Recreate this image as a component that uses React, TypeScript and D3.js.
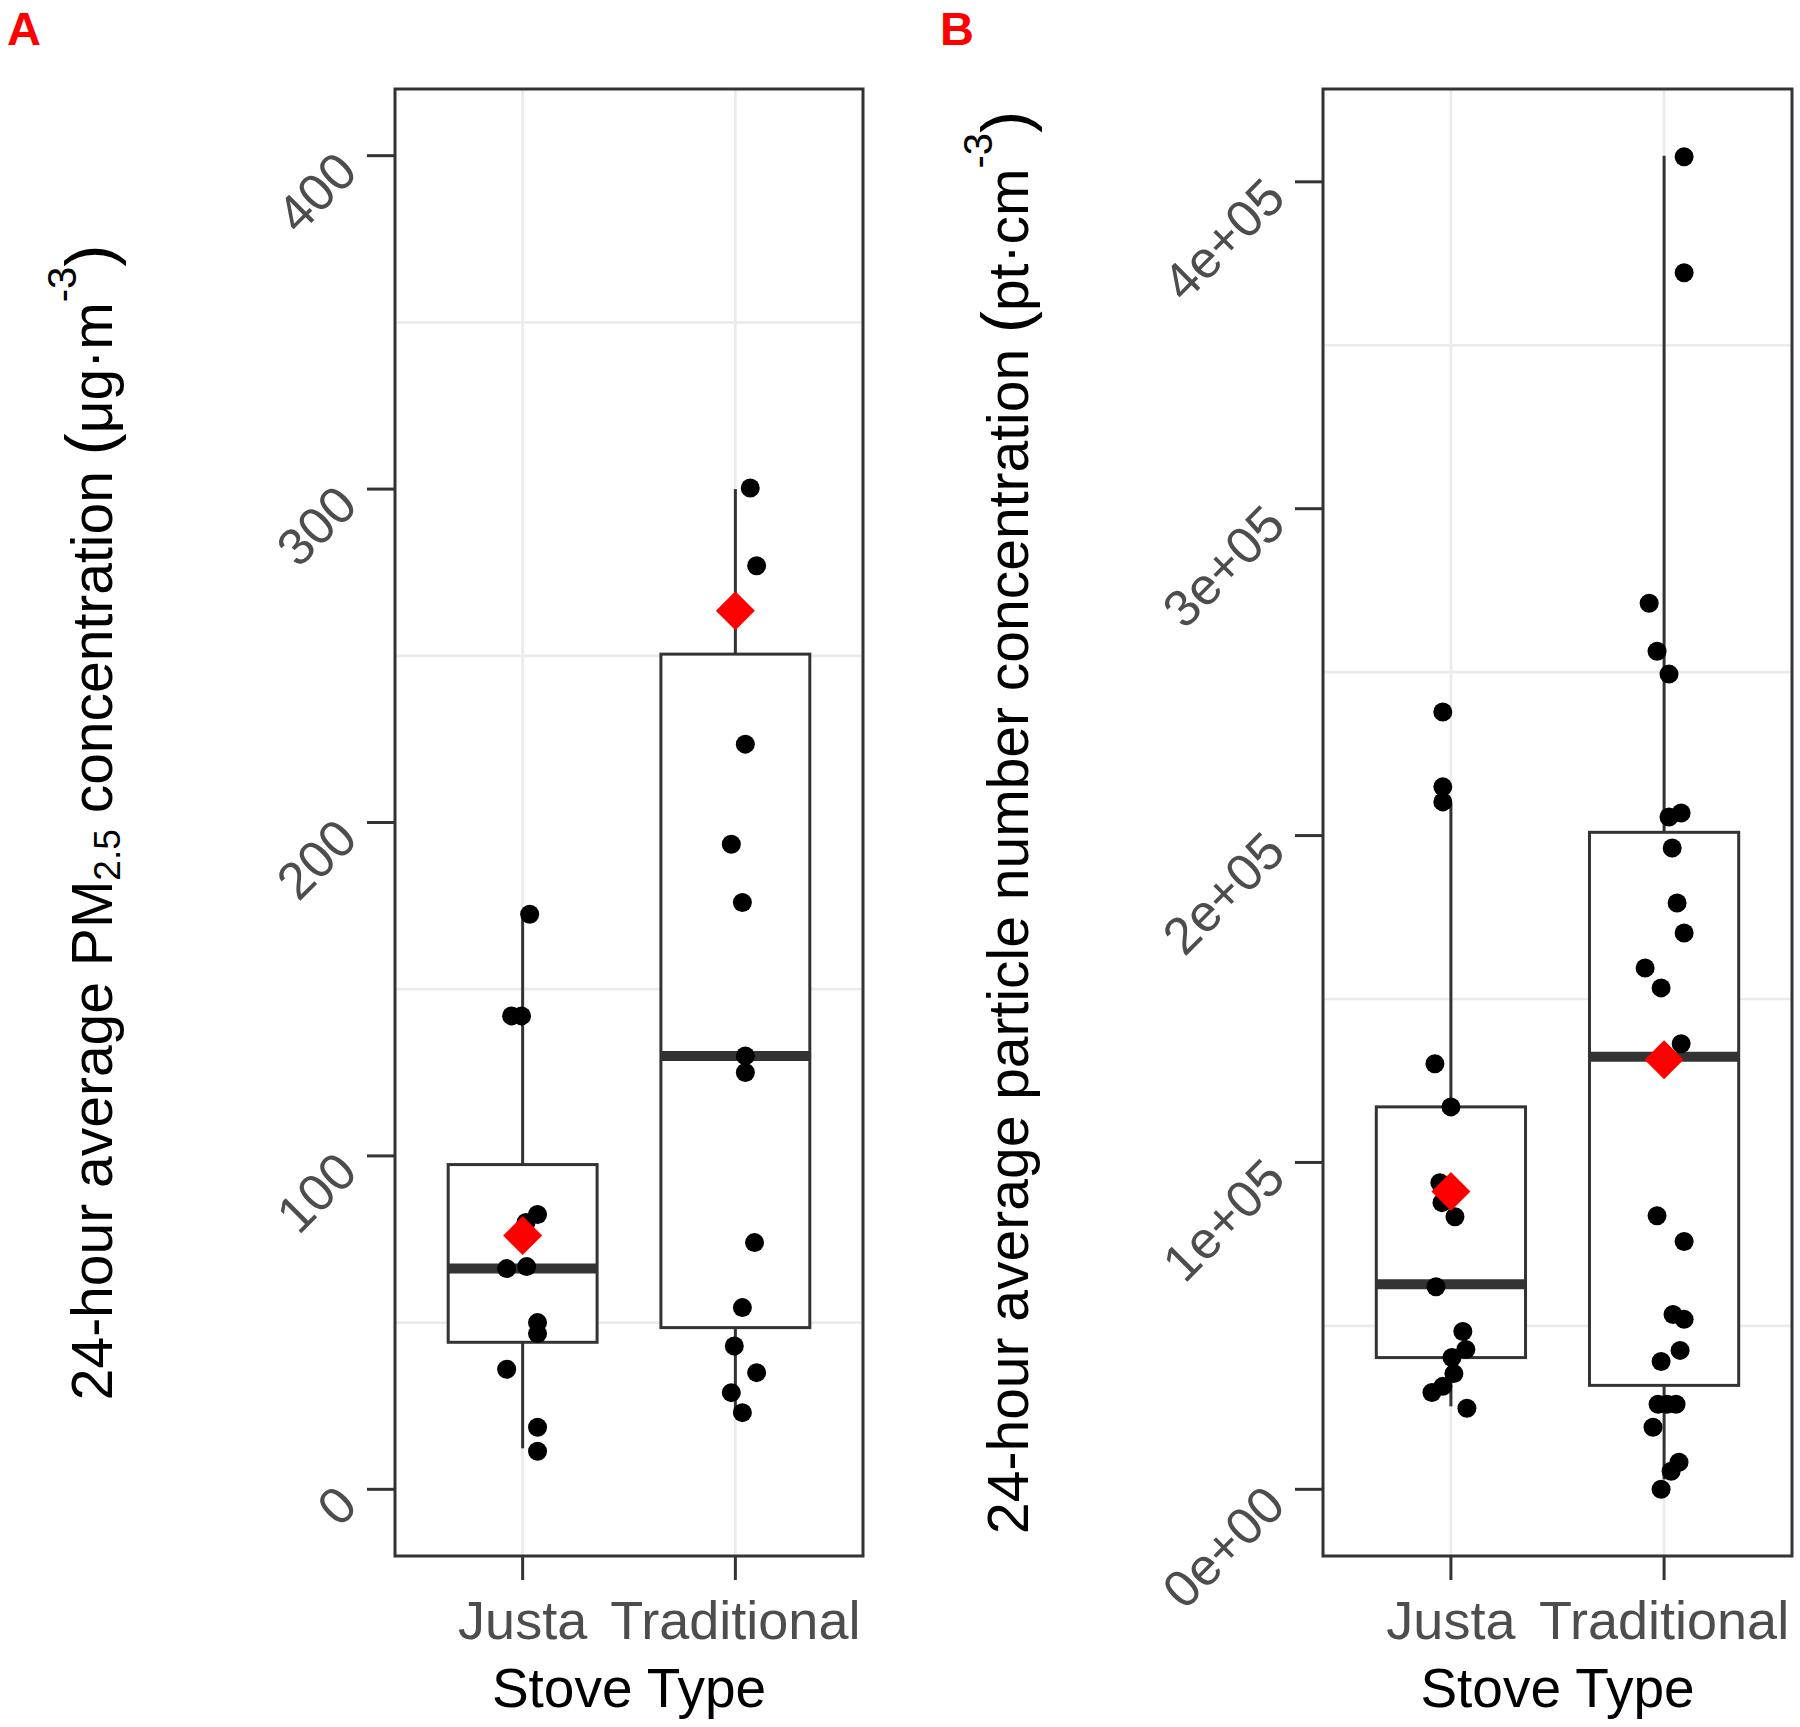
import React from "react";
import * as d3 from "d3";

// ---------- data ----------
const CATEGORIES = ["Justa", "Traditional"];

// Panel A: PM2.5 (µg/m3)
const PM_LIMITS = [0, 400];
const PM_TICKS = [0, 100, 200, 300, 400];
const PM_TICK_LABELS = ["0", "100", "200", "300", "400"];
const PM_MINOR = [50, 150, 250, 350];
// box stats: [lower whisker, Q1, median, Q3, upper whisker]
const PM_BOX_JUSTA = [12.3, 44.1, 66.2, 97.4, 172.6];
const PM_BOX_TRAD = [23, 48.5, 130, 250.5, 300];
const PM_MEANS = [76.1, 263.5];
const PM_JUSTA = [172.5, 142, 142, 82.4, 80, 66.2, 66.8, 50, 46.7, 36, 18.6, 11.4];
const PM_JUSTA_JITTER = [0.033, -0.052, -0.005, 0.07, 0.016, -0.075, 0.019, 0.07, 0.07, -0.075, 0.07, 0.07];
const PM_TRAD = [300.3, 277, 223.5, 193.5, 176, 130, 125, 74, 54.5, 43, 35, 29, 23];
const PM_TRAD_JITTER = [0.07, 0.1, 0.047, -0.019, 0.033, 0.047, 0.047, 0.09, 0.033, -0.005, 0.1, -0.019, 0.033];

// Panel B: particle number (pt/cm3)
const PN_LIMITS = [0, 408000];
const PN_TICKS = [0, 100000, 200000, 300000, 400000];
const PN_TICK_LABELS = ["0e+00", "1e+05", "2e+05", "3e+05", "4e+05"];
const PN_MINOR = [50000, 150000, 250000, 350000];
const PN_BOX_JUSTA = [25400, 40300, 62700, 117000, 210000];
const PN_BOX_TRAD = [3000, 31800, 132300, 201000, 408000];
const PN_MEANS = [91100, 131400];
const PN_JUSTA = [237800, 214900, 210300, 130200, 117000, 93800, 87700, 83400, 62000, 48300, 42800, 40300, 35400, 31500, 29600, 24800];
const PN_JUSTA_JITTER = [-0.038, -0.038, -0.038, -0.075, 0, -0.052, -0.042, 0.019, -0.07, 0.056, 0.07, 0.005, 0.014, -0.038, -0.089, 0.075];
const PN_TRAD = [407700, 372200, 271100, 256400, 249400, 206900, 205700, 196200, 179400, 170200, 159500, 153400, 136300, 83700, 75800, 53500, 52000, 42500, 39100, 26000, 26000, 26000, 19000, 8300, 5500, 0];
const PN_TRAD_JITTER = [0.094, 0.094, -0.07, -0.033, 0.023, 0.08, 0.023, 0.038, 0.061, 0.094, -0.089, -0.014, 0.08, -0.033, 0.094, 0.042, 0.094, 0.075, -0.014, -0.028, 0.014, 0.056, -0.052, 0.07, 0.033, -0.014];

// ---------- layout ----------
const W = 1800;
const H = 1727;
const TOP = 89;
const BOTTOM = 1556;
const FONT = "'Liberation Sans', Arial, Helvetica, sans-serif";
const BORDER = "#333333";
const GRID = "#EBEBEB";
const TICK_TEXT = "#4D4D4D";

type PanelProps = {
  left: number;
  right: number;
  limits: number[];
  ticks: number[];
  tickLabels: string[];
  minor: number[];
  boxes: number[][];
  means: number[];
  points: number[][];
  jitter: number[][];
  titleX: number;
  title: React.ReactNode;
  letter: string;
  letterX: number;
};

function Panel(p: PanelProps) {
  const span = p.limits[1] - p.limits[0];
  const y = d3
    .scaleLinear()
    .domain([p.limits[0] - 0.05 * span, p.limits[1] + 0.05 * span])
    .range([BOTTOM, TOP]);
  const x = d3.scalePoint<string>().domain(CATEGORIES).range([p.left, p.right]).padding(0.6);
  const step = x.step();
  const boxW = 0.7 * step;
  const diamond = d3.symbol().type(d3.symbolSquare).size(760)();
  const cx = (p.left + p.right) / 2;

  return (
    <g>
      <text x={p.letterX} y={45} fill="#FF0000" fontFamily={FONT} fontWeight="bold" fontSize={47}>
        {p.letter}
      </text>
      {/* grid */}
      {p.minor.map((v) => (
        <line key={"m" + v} x1={p.left} x2={p.right} y1={y(v)} y2={y(v)} stroke={GRID} strokeWidth={2.7} />
      ))}
      {CATEGORIES.map((c) => (
        <line key={"g" + c} x1={x(c)} x2={x(c)} y1={TOP} y2={BOTTOM} stroke={GRID} strokeWidth={2.7} />
      ))}
      {/* boxes */}
      {CATEGORIES.map((c, i) => {
        const [lo, q1, med, q3, hi] = p.boxes[i];
        const xc = x(c) as number;
        return (
          <g key={"b" + c}>
            <line x1={xc} x2={xc} y1={y(q3)} y2={y(hi)} stroke={BORDER} strokeWidth={3} />
            <line x1={xc} x2={xc} y1={y(q1)} y2={y(lo)} stroke={BORDER} strokeWidth={3} />
            <rect x={xc - boxW / 2} y={y(q3)} width={boxW} height={y(q1) - y(q3)} fill="white" stroke={BORDER} strokeWidth={3} />
            <line x1={xc - boxW / 2} x2={xc + boxW / 2} y1={y(med)} y2={y(med)} stroke={BORDER} strokeWidth={10} />
          </g>
        );
      })}
      {/* points */}
      {CATEGORIES.map((c, i) =>
        p.points[i].map((v, j) => (
          <circle key={c + j} cx={(x(c) as number) + p.jitter[i][j] * step} cy={y(v)} r={9.5} fill="black" />
        ))
      )}
      {/* means */}
      {CATEGORIES.map((c, i) => (
        <path key={"mean" + c} d={diamond as string} transform={`translate(${x(c)},${y(p.means[i])}) rotate(45)`} fill="#FF0000" />
      ))}
      {/* panel border */}
      <rect x={p.left} y={TOP} width={p.right - p.left} height={BOTTOM - TOP} fill="none" stroke={BORDER} strokeWidth={3} />
      {/* y axis */}
      {p.ticks.map((v, i) => (
        <g key={"yt" + v}>
          <line x1={p.left - 28} x2={p.left} y1={y(v)} y2={y(v)} stroke={BORDER} strokeWidth={3} />
          <text
            transform={`translate(${p.left - 48},${y(v) + 6}) rotate(-45)`}
            textAnchor="end"
            dominantBaseline="central"
            fontFamily={FONT}
            fontSize={52}
            fill={TICK_TEXT}
          >
            {p.tickLabels[i]}
          </text>
        </g>
      ))}
      {/* x axis */}
      {CATEGORIES.map((c) => (
        <g key={"xt" + c}>
          <line x1={x(c)} x2={x(c)} y1={BOTTOM} y2={BOTTOM + 24} stroke={BORDER} strokeWidth={3} />
          <text x={x(c)} y={1639} textAnchor="middle" fontFamily={FONT} fontSize={54} fill={TICK_TEXT}>
            {c}
          </text>
        </g>
      ))}
      <text x={cx} y={1707} textAnchor="middle" fontFamily={FONT} fontSize={55} fill="black">
        Stove Type
      </text>
      <text
        transform={`translate(${p.titleX},${(TOP + BOTTOM) / 2}) rotate(-90)`}
        textAnchor="middle"
        fontFamily={FONT}
        fontSize={57}
        fill="black"
      >
        {p.title}
      </text>
    </g>
  );
}

export default function App() {
  const titleA = (
    <>
      <tspan>24-hour average PM</tspan>
      <tspan fontSize={37} dy={8}>2.5</tspan>
      <tspan dy={-8}> concentration </tspan>
      <tspan fontSize={66}>(</tspan>
      <tspan>μg·m</tspan>
      <tspan fontSize={40} dy={-36}>-3</tspan>
      <tspan fontSize={66} dy={36}>)</tspan>
    </>
  );
  const titleB = (
    <>
      <tspan>24-hour average particle number concentration </tspan>
      <tspan fontSize={66}>(</tspan>
      <tspan>pt·cm</tspan>
      <tspan fontSize={40} dy={-36}>-3</tspan>
      <tspan fontSize={66} dy={36}>)</tspan>
    </>
  );
  return (
    <svg width={W} height={H} style={{ position: "absolute", left: 0, top: 0, background: "white" }}>
      <rect width={W} height={H} fill="white" />
      <Panel
        left={395}
        right={863}
        limits={PM_LIMITS}
        ticks={PM_TICKS}
        tickLabels={PM_TICK_LABELS}
        minor={PM_MINOR}
        boxes={[PM_BOX_JUSTA, PM_BOX_TRAD]}
        means={PM_MEANS}
        points={[PM_JUSTA, PM_TRAD]}
        jitter={[PM_JUSTA_JITTER, PM_TRAD_JITTER]}
        titleX={112}
        title={titleA}
        letter="A"
        letterX={7}
      />
      <Panel
        left={1323}
        right={1792}
        limits={PN_LIMITS}
        ticks={PN_TICKS}
        tickLabels={PN_TICK_LABELS}
        minor={PN_MINOR}
        boxes={[PN_BOX_JUSTA, PN_BOX_TRAD]}
        means={PN_MEANS}
        points={[PN_JUSTA, PN_TRAD]}
        jitter={[PN_JUSTA_JITTER, PN_TRAD_JITTER]}
        titleX={1028}
        title={titleB}
        letter="B"
        letterX={940}
      />
    </svg>
  );
}
